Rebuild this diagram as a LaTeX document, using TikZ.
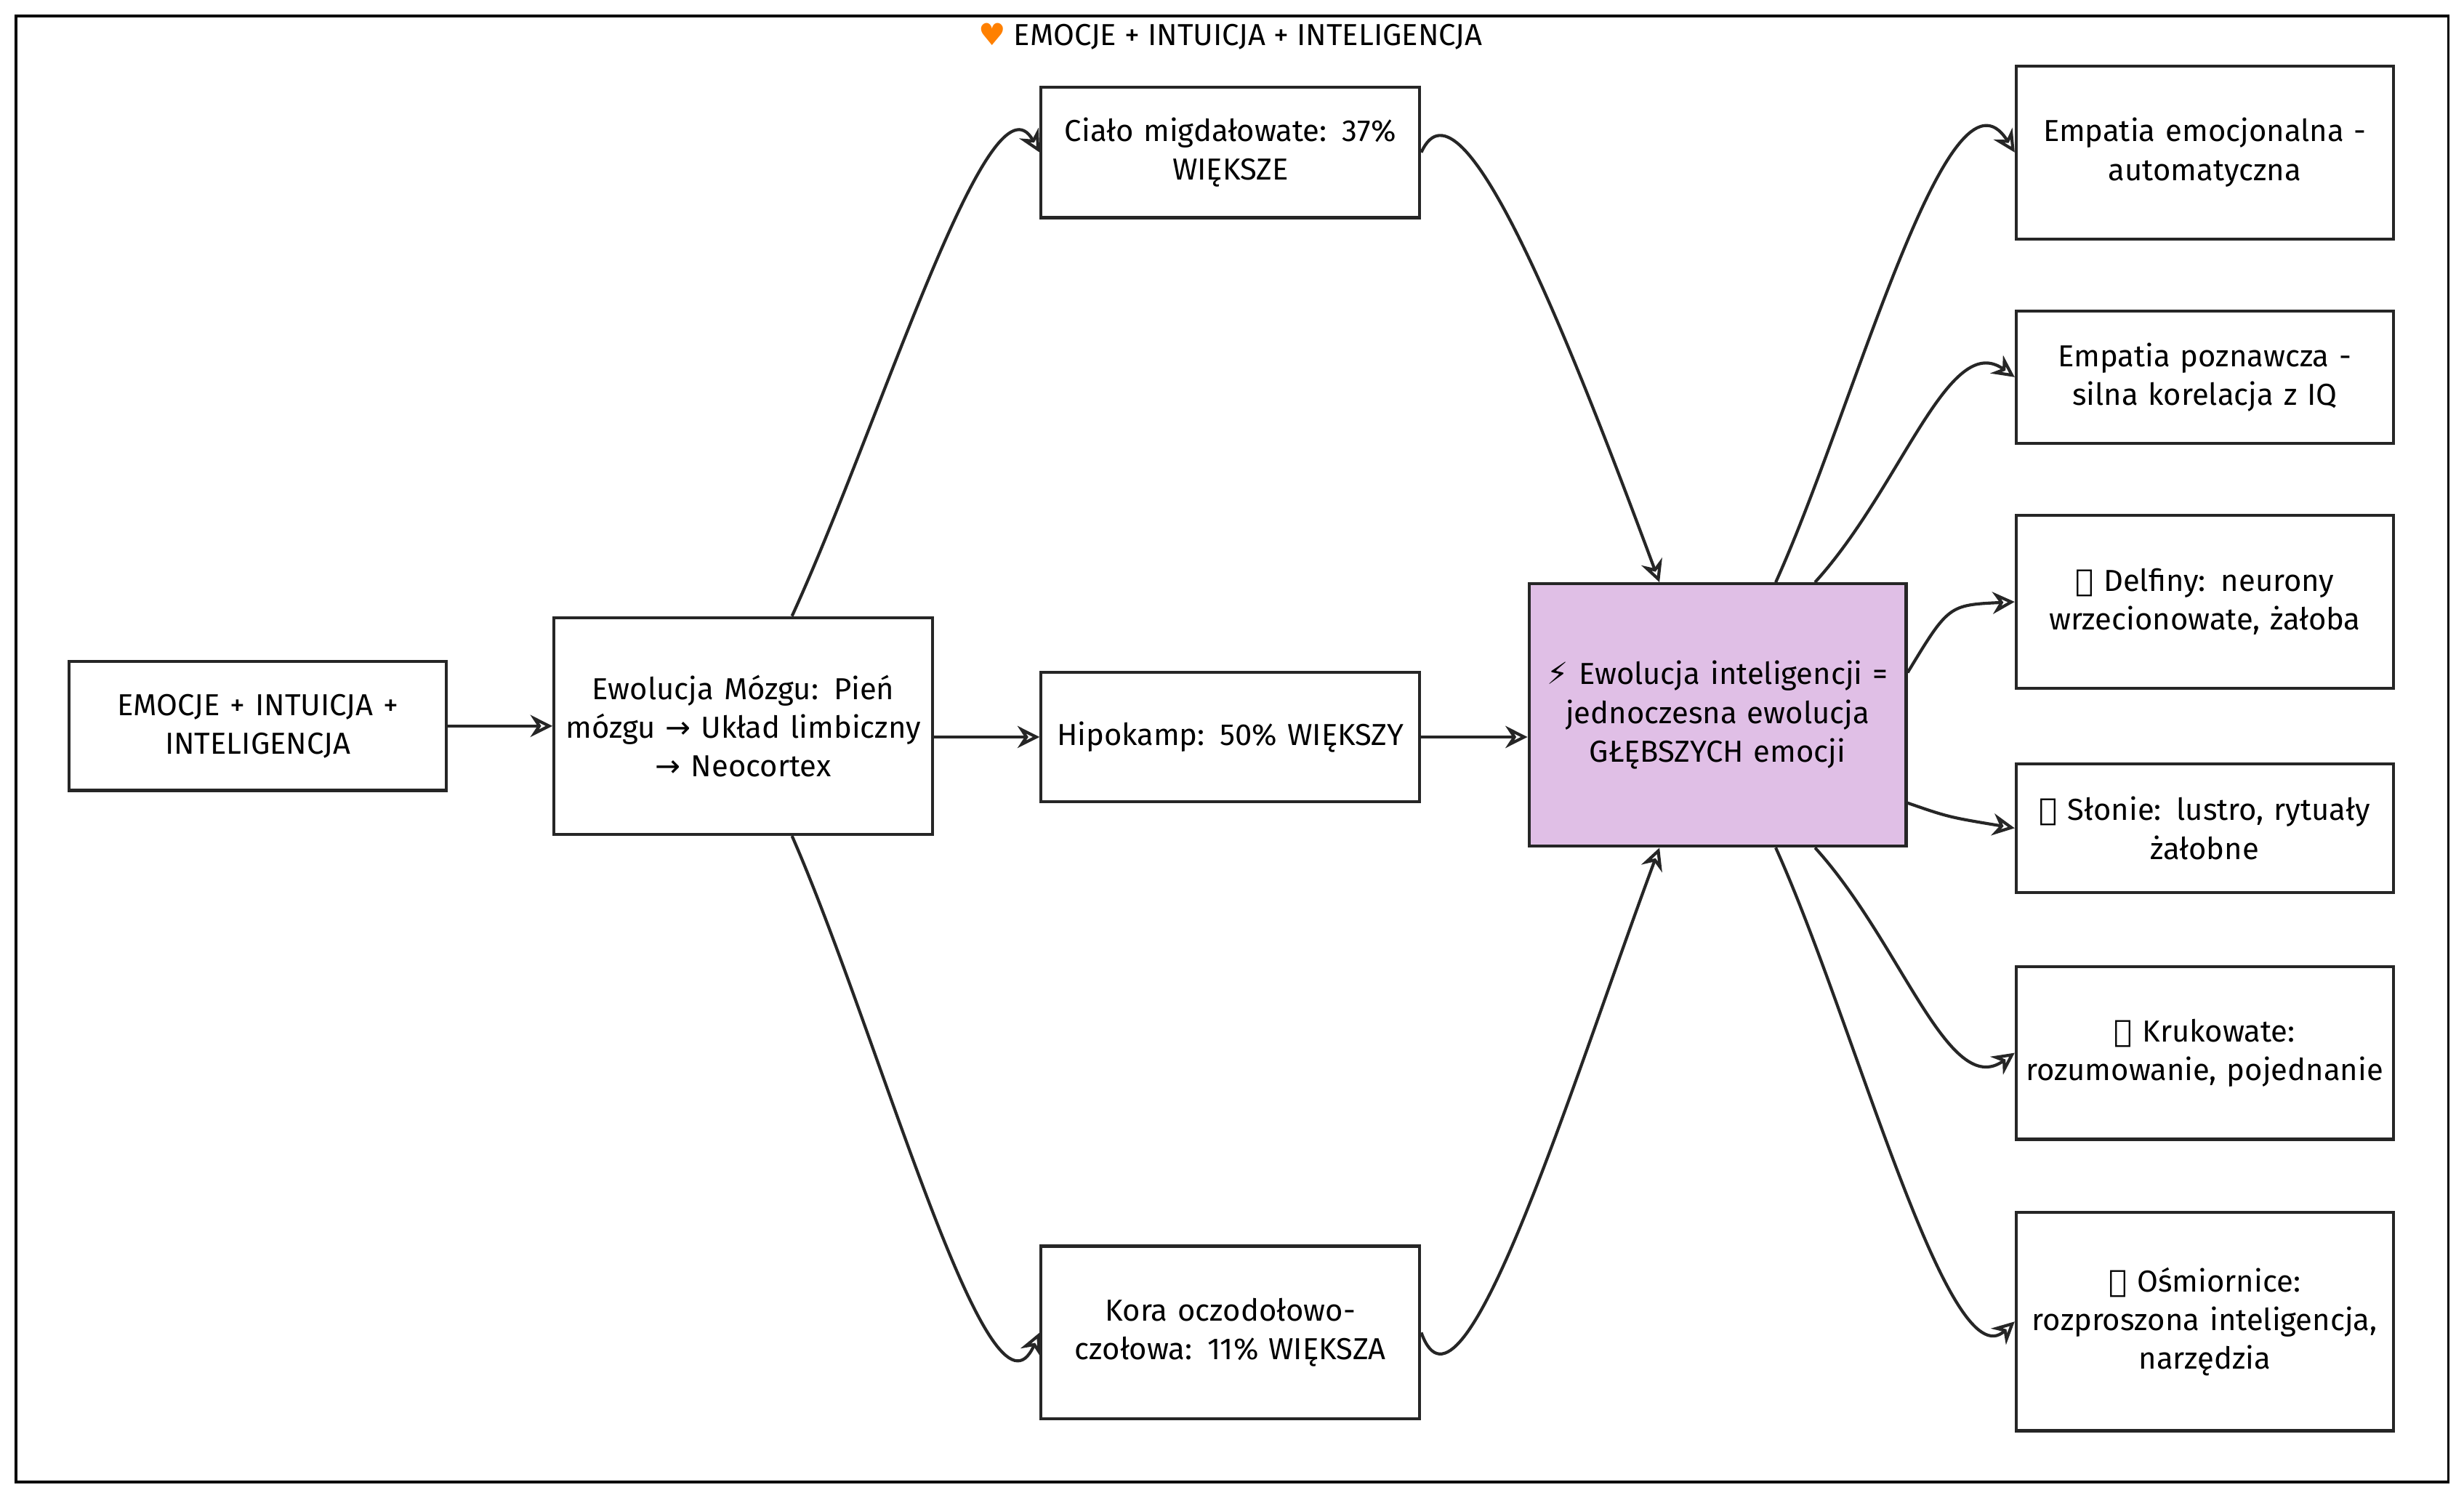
\documentclass[tikz,border=0pt]{standalone}
\usepackage{fontspec}
\setmainfont{Fira Sans}
\newfontfamily\emo{DejaVu Sans}
\usetikzlibrary{arrows.meta}
\begin{document}
\begin{tikzpicture}[x=0.02cm,y=-0.02cm,
 box/.style={draw=black!85,line width=1.1pt,align=center,font=\fontsize{11}{14}\selectfont,inner sep=2pt,text width=4.6cm},
 ar/.style={-{Stealth[open,length=8pt,width=8pt]},line width=1.1pt,black!85}]
\useasboundingbox (0,0) rectangle (1568,953);
\draw[line width=1pt] (10,10) rectangle (1558,943);
\node[font=\fontsize{11}{14}\selectfont] (t) at (783,23) {{\emo\color{orange}♥} EMOCJE + INTUICJA + INTELIGENCJA};
\node[box,minimum width=4.8cm,minimum height=1.64cm] (A) at (164,462) {EMOCJE + INTUICJA +\\INTELIGENCJA};
\node[box,minimum width=4.82cm,minimum height=2.76cm] (B) at (473,462) {Ewolucja Mózgu: Pień\\mózgu {\emo →} Układ limbiczny\\{\emo →} Neocortex};
\node[box,minimum width=4.82cm,minimum height=1.66cm] (C1) at (783,97) {Ciało migdałowate: 37\%\\WIĘKSZE};
\node[box,minimum width=4.82cm,minimum height=1.64cm] (C2) at (783,469) {Hipokamp: 50\% WIĘKSZY};
\node[box,minimum width=4.82cm,minimum height=2.2cm] (C3) at (783,848) {Kora oczodołowo-\\czołowa: 11\% WIĘKSZA};
\node[box,fill={rgb,255:red,224;green,191;blue,230},minimum width=4.8cm,minimum height=3.34cm] (D) at (1093,455) {{\emo ⚡} Ewolucja inteligencji =\\jednoczesna ewolucja\\GŁĘBSZYCH emocji};
\node[box,minimum width=4.8cm,minimum height=2.2cm] (R1) at (1403,97) {Empatia emocjonalna -\\automatyczna};
\node[box,minimum width=4.8cm,minimum height=1.68cm] (R2) at (1403,240) {Empatia poznawcza -\\silna korelacja z IQ};
\node[box,minimum width=4.8cm,minimum height=2.2cm] (R3) at (1403,383) {{\emo 🐬} Delfiny: neurony\\wrzecionowate, żałoba};
\node[box,minimum width=4.8cm,minimum height=1.64cm] (R4) at (1403,527) {{\emo 🐘} Słonie: lustro, rytuały\\żałobne};
\node[box,minimum width=4.8cm,minimum height=2.2cm] (R5) at (1403,670) {{\emo 🐦} Krukowate:\\rozumowanie, pojednanie};
\node[box,minimum width=4.8cm,minimum height=2.78cm] (R6) at (1403,841) {{\emo 🐙} Ośmiornice:\\rozproszona inteligencja,\\narzędzia};
\draw[ar] (A) -- (B);
\draw[ar] (B.east |- C2.west) -- (C2.west);
\draw[ar] (C2.east) -- (D.west |- C2.east);
\draw[ar] ([xshift=0.62cm]B.north) .. controls (560,270) and (630,40) .. (C1.west);
\draw[ar] ([xshift=0.62cm]B.south) .. controls (560,660) and (630,920) .. (C3.west);
\draw[ar] (C1.east) .. controls (930,40) and (1000,220) .. ([xshift=-0.74cm]D.north);
\draw[ar] (C3.east) .. controls (930,920) and (1000,690) .. ([xshift=-0.74cm]D.south);
\draw[ar] ([xshift=0.74cm]D.north) .. controls (1180,260) and (1240,30) .. (R1.west);
\draw[ar] ([xshift=1.24cm]D.north) .. controls (1210,310) and (1240,210) .. (R2.west);
\draw[ar] ([yshift=0.54cm]D.east) .. controls (1240,385) .. (R3.west);
\draw[ar] ([yshift=-1.12cm]D.east) .. controls (1240,520) .. (R4.west);
\draw[ar] ([xshift=1.24cm]D.south) .. controls (1210,600) and (1240,700) .. (R5.west);
\draw[ar] ([xshift=0.74cm]D.south) .. controls (1180,650) and (1240,880) .. (R6.west);
\end{tikzpicture}
\end{document}
